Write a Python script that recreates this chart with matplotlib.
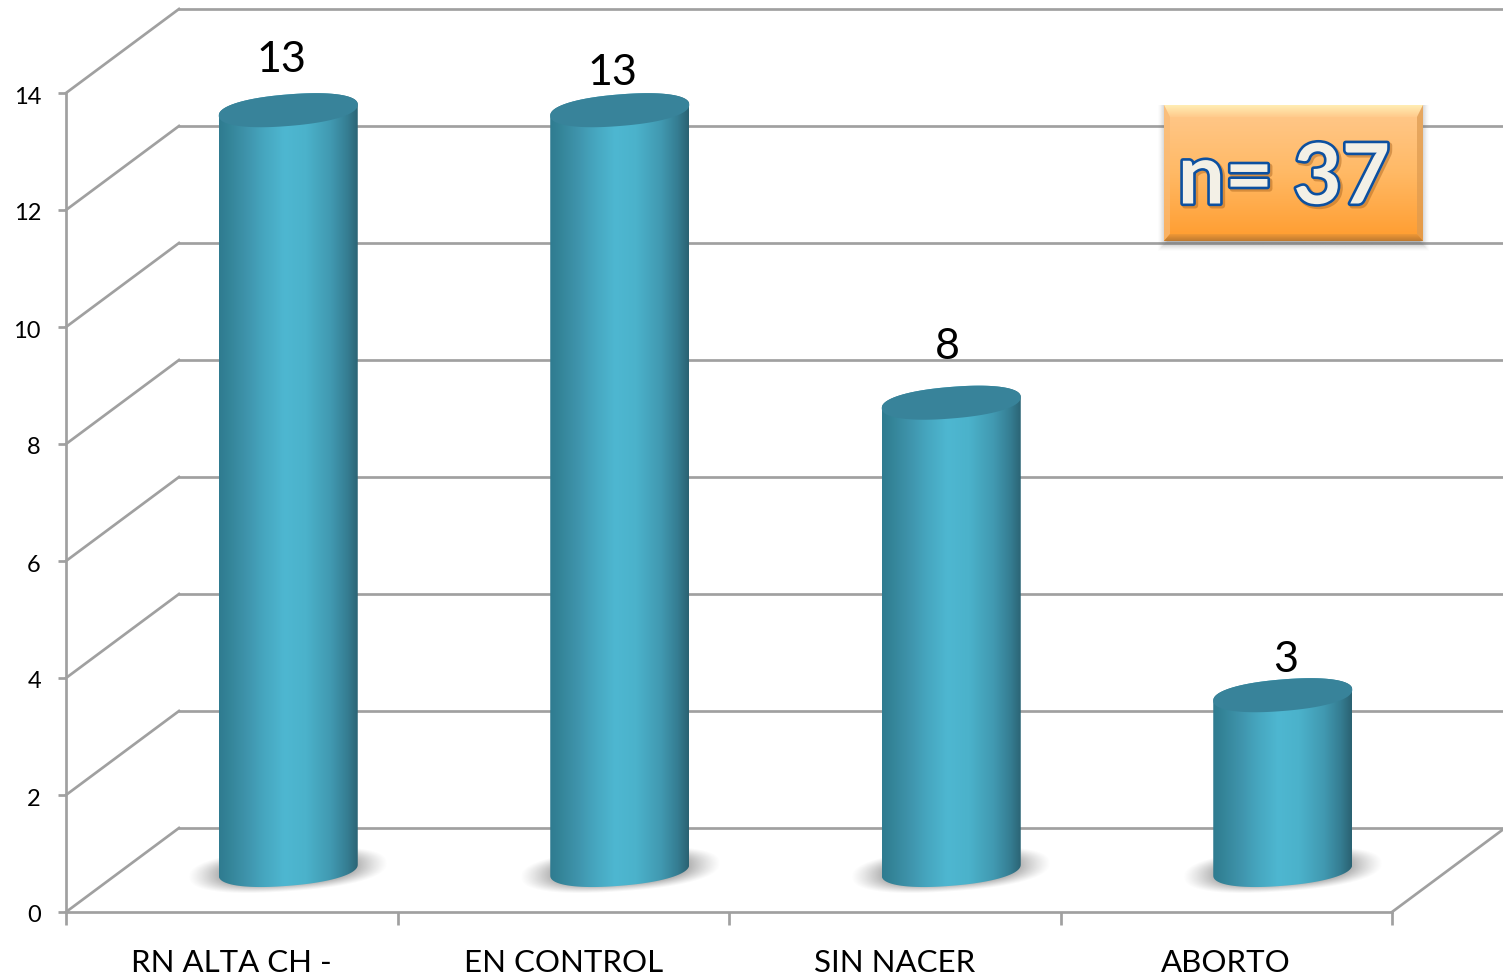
import matplotlib
matplotlib.use('Agg')
import matplotlib.pyplot as plt
import matplotlib.patheffects as pe
from matplotlib.colors import LinearSegmentedColormap
from matplotlib.patches import Polygon
from matplotlib.transforms import ScaledTranslation
import numpy as np

categories = ['RN ALTA CH -', 'EN CONTROL', 'SIN NACER', 'ABORTO']
values = [13, 13, 8, 3]
y_ticks = [0, 2, 4, 6, 8, 10, 12, 14]
total_label = 'n= 37'

W, H = 1503, 977
plt.rcParams['font.family'] = ['Lato', 'DejaVu Sans']

# plot area in pixels, measured from the top left
left, right, top, bottom = 66, 1392, 93, 912
depth_px = (113, 84)
grid_col = '#a0a0a0'
grid_lw = 1.95

fig = plt.figure(figsize=(W / 100, H / 100), dpi=100, facecolor='white')
ax = fig.add_axes([left / W, (H - bottom) / H, (right - left) / W, (bottom - top) / H])
ax.patch.set_visible(False)
ax.set_xlim(0, len(categories))
ax.set_ylim(0, 14)

ux = (right - left) / len(categories)
uy = (bottom - top) / 14
dx, dy = depth_px[0] / ux, depth_px[1] / uy

# back wall, side wall and floor
x_end = (W - left) / ux
for v in y_ticks:
    ax.plot([0, dx], [v, v + dy], color=grid_col, lw=grid_lw, clip_on=False, zorder=1)
    ax.plot([dx, x_end], [v + dy, v + dy], color=grid_col, lw=grid_lw, clip_on=False, zorder=1)
ax.plot([4, x_end], [0, dy * (W - right) / depth_px[0]], color=grid_col, lw=grid_lw, clip_on=False, zorder=1)

for name in ['top', 'right']:
    ax.spines[name].set_visible(False)
for name in ['left', 'bottom']:
    ax.spines[name].set_color(grid_col)
    ax.spines[name].set_linewidth(grid_lw)
    ax.spines[name].set_zorder(2)

ax.set_yticks(y_ticks)
ax.set_yticklabels([str(v) for v in y_ticks], fontsize=17, color='black')
ax.tick_params(axis='y', length=6, width=grid_lw, color=grid_col, pad=12)
shift_down = ScaledTranslation(0, -2 / 100, fig.dpi_scale_trans)
for lab in ax.get_yticklabels():
    lab.set_transform(lab.get_transform() + shift_down)
ax.set_xticks(range(len(categories) + 1))
ax.set_xticklabels([])
ax.tick_params(axis='x', length=9, width=grid_lw, color=grid_col)
ax.set_xticks(np.arange(len(categories)) + 0.5, minor=True)
ax.set_xticklabels(categories, minor=True, fontsize=22.5, color='black')
ax.tick_params(axis='x', which='minor', length=0, pad=27)

# cylinder shading, left to right
body_cmap = LinearSegmentedColormap.from_list('body', [
    (0.0, '#2f7b90'), (0.07, '#348498'), (0.2, '#3f94ac'), (0.32, '#46a6bf'),
    (0.47, '#4eb7d1'), (0.62, '#4bb2cb'), (0.8, '#4199b1'), (0.92, '#357d92'), (1.0, '#2a6272')])
gradient = np.linspace(0, 1, 256).reshape(1, -1)

half_w = 69.5 / ux
half_h = 15.8 / uy
tilt = 5.5 / uy
label_nudge = [(-7, -50), (-7, -37), (-4, -56), (3, -35)]


def rim(cx, cy, t):
    # nearly elliptical rim, leaning up to the right
    c, s = np.cos(t), np.sin(t)
    ex = np.sign(c) * np.abs(c) ** 0.9
    ey = np.sign(s) * np.abs(s) ** 0.9
    return cx + half_w * ex, cy + half_h * ey + tilt * ex


def ground_shadow(cx, cy):
    # soft tilted blob under the foot of a cylinder
    nx, ny = 260, 90
    px = np.linspace(-130, 130, nx)
    py = np.linspace(45, -45, ny)
    xx, yy = np.meshgrid(px, py)
    yy = yy - xx * 0.07
    r = (np.abs(xx / 100) ** 2.4 + np.abs(yy / 22) ** 2.4) ** (1 / 2.4)
    alpha = np.clip((1.0 - r) / 0.4, 0, 1) ** 1.2 * 0.58
    rgba = np.zeros((ny, nx, 4))
    rgba[..., :3] = 0.32
    rgba[..., 3] = alpha
    ax.imshow(rgba, extent=[cx - 130 / ux, cx + 130 / ux, cy - 45 / uy, cy + 45 / uy],
              aspect='auto', clip_on=False, zorder=3, interpolation='bilinear')


for i, v in enumerate(values):
    cx = i + 0.5 + dx / 2
    base_y = dy / 2
    top_y = v + dy / 2 - 0.7 / uy

    ground_shadow(cx, base_y)

    bx, by = rim(cx, base_y, np.linspace(np.pi, 2 * np.pi, 120))
    tx, ty = rim(cx, top_y, np.linspace(0, np.pi, 120))
    outline = np.column_stack([np.r_[bx, tx], np.r_[by, ty]])
    clip = Polygon(outline, closed=True, transform=ax.transData, fc='none', ec='none')
    ax.add_patch(clip)
    clip.set_clip_on(False)
    im = ax.imshow(gradient, cmap=body_cmap, aspect='auto', zorder=4,
                   extent=[cx - half_w, cx + half_w, base_y - 1, top_y + 1])
    im.set_clip_path(clip)

    ex, ey = rim(cx, top_y, np.linspace(0, 2 * np.pi, 240))
    ax.fill(ex, ey, color='#38839a', lw=0, clip_on=False, zorder=5)

    nudge = label_nudge[i]
    ax.annotate(str(v), (cx, top_y), xytext=(nudge[0] * 0.72, -nudge[1] * 0.72),
                textcoords='offset points', ha='center', va='center',
                fontsize=31, color='black', zorder=6, annotation_clip=False)

ax.set_xlim(0, len(categories))
ax.set_ylim(0, 14)

# overlay in pixel units for the total box
ov = fig.add_axes([0, 0, 1, 1])
ov.set_xlim(0, W)
ov.set_ylim(H, 0)
ov.axis('off')
ov.patch.set_visible(False)

bx0, bx1, by0, by1 = 1164, 1423, 105, 241

# drop shadow of the box
sx = np.arange(bx0 - 10, bx1 + 11)
sy = np.arange(by0, by1 + 15)
xx, yy = np.meshgrid(sx, sy)
edge = np.minimum.reduce([xx - (bx0 - 7), (bx1 + 7) - xx, (by1 + 11) - yy, yy - by0 + 8])
shadow = np.zeros(xx.shape + (4,))
shadow[..., :3] = 0.4
shadow[..., 3] = np.clip(edge / 10, 0, 1) ** 1.5 * 0.5
ov.imshow(shadow, extent=[sx[0], sx[-1], sy[-1], sy[0]], aspect='auto', zorder=1)

box_cmap = LinearSegmentedColormap.from_list('box', ['#ffc98d', '#ffb965', '#ff9c2e'])
ov.imshow(np.linspace(0, 1, 256).reshape(-1, 1), cmap=box_cmap, aspect='auto', zorder=2,
          extent=[bx0, bx1, by1, by0])

# bevelled edges
top_b, side_b, low_b = 12, 6, 7
top_cmap = LinearSegmentedColormap.from_list('bevel', ['#ffedb4', '#ffcb8c'])
poly = Polygon([(bx0, by0), (bx1, by0), (bx1 - side_b, by0 + top_b), (bx0 + side_b, by0 + top_b)],
               closed=True, transform=ov.transData, fc='none', ec='none')
ov.add_patch(poly)
im = ov.imshow(np.linspace(0, 1, 32).reshape(-1, 1), cmap=top_cmap, aspect='auto', zorder=3,
               extent=[bx0, bx1, by0 + top_b, by0])
im.set_clip_path(poly)
ov.fill([bx0, bx0 + side_b, bx0 + side_b, bx0], [by0, by0 + top_b, by1 - low_b, by1],
        color='#f9bb78', alpha=0.7, lw=0, zorder=3)
ov.fill([bx1, bx1 - side_b, bx1 - side_b, bx1], [by0, by0 + top_b, by1 - low_b, by1],
        color='#dc9a50', alpha=0.7, lw=0, zorder=3)
low_cmap = LinearSegmentedColormap.from_list('low', ['#ef9836', '#bf7a30'])
poly = Polygon([(bx0, by1), (bx1, by1), (bx1 - side_b, by1 - low_b), (bx0 + side_b, by1 - low_b)],
               closed=True, transform=ov.transData, fc='none', ec='none')
ov.add_patch(poly)
im = ov.imshow(np.linspace(0, 1, 32).reshape(-1, 1), cmap=low_cmap, aspect='auto', zorder=3,
               extent=[bx0, bx1, by1, by1 - low_b])
im.set_clip_path(poly)

ov.text(1284, 180, total_label, fontsize=60, color='#f3f0e6', fontweight='bold',
        ha='center', va='center', zorder=4,
        path_effects=[pe.Stroke(linewidth=4.2, foreground='#a8601a', alpha=0.45, offset=(1.5, -1.5)),
                      pe.Stroke(linewidth=3.8, foreground='#0c50a0'),
                      pe.Normal()])
ov.set_xlim(0, W)
ov.set_ylim(H, 0)

fig.savefig('out.png', dpi=100)
